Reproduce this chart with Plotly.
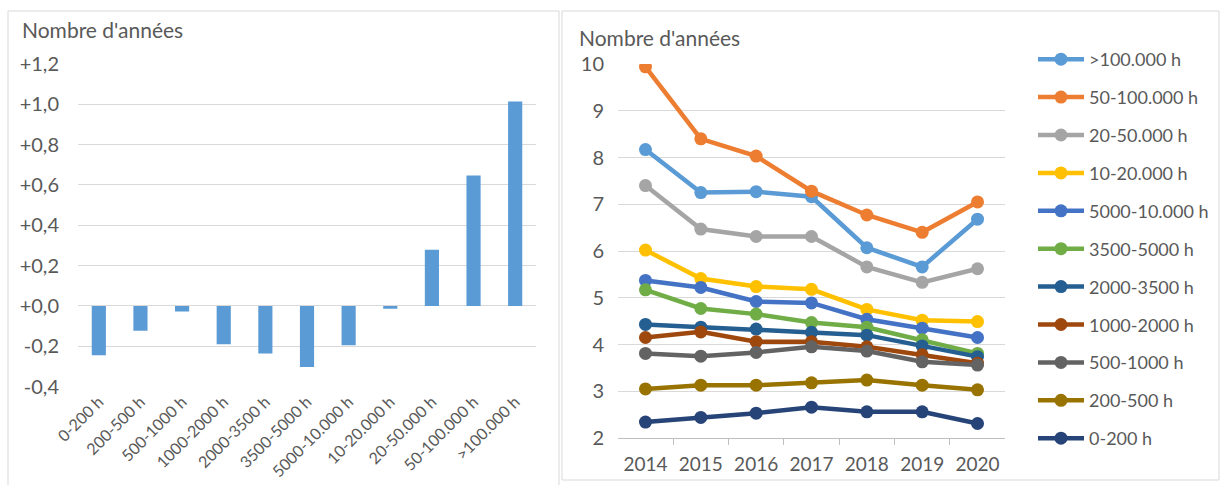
import plotly.graph_objects as go

W, H = 1225, 485

# ---- left panel: change in number of years by class ----
classes = ["0-200 h", "200-500 h", "500-1000 h", "1000-2000 h", "2000-3500 h",
           "3500-5000 h", "5000-10.000 h", "10-20.000 h", "20-50.000 h",
           "50-100.000 h", ">100.000 h"]
delta = [-0.245, -0.124, -0.028, -0.19, -0.236, -0.303, -0.195, -0.014, 0.278, 0.647, 1.014]
left_ticks = [-0.4, -0.2, 0.0, 0.2, 0.4, 0.6, 0.8, 1.0, 1.2]
left_ticktext = ["-0,4", "-0,2", "+0,0", "+0,2", "+0,4", "+0,6", "+0,8", "+1,0", "+1,2"]

# ---- right panel: yearly series per class ----
years = ["2014", "2015", "2016", "2017", "2018", "2019", "2020"]
s_100k_plus = [8.17, 7.25, 7.27, 7.16, 6.07, 5.66, 6.68]
s_50_100k = [9.94, 8.40, 8.03, 7.28, 6.77, 6.40, 7.05]
s_20_50k = [7.40, 6.47, 6.31, 6.31, 5.66, 5.33, 5.62]
s_10_20k = [6.02, 5.41, 5.24, 5.18, 4.75, 4.52, 4.49]
s_5000_10k = [5.37, 5.22, 4.92, 4.89, 4.54, 4.35, 4.15]
s_3500_5000 = [5.17, 4.77, 4.65, 4.47, 4.37, 4.10, 3.81]
s_2000_3500 = [4.43, 4.37, 4.33, 4.26, 4.20, 3.97, 3.74]
s_1000_2000 = [4.15, 4.27, 4.06, 4.06, 3.95, 3.78, 3.60]
s_500_1000 = [3.81, 3.75, 3.83, 3.95, 3.86, 3.63, 3.56]
s_200_500 = [3.05, 3.13, 3.13, 3.18, 3.24, 3.13, 3.03]
s_0_200 = [2.34, 2.44, 2.53, 2.66, 2.56, 2.56, 2.31]

series = [
    (">100.000 h", s_100k_plus, "#5B9BD5"),
    ("50-100.000 h", s_50_100k, "#ED7D31"),
    ("20-50.000 h", s_20_50k, "#A5A5A5"),
    ("10-20.000 h", s_10_20k, "#FFC000"),
    ("5000-10.000 h", s_5000_10k, "#4472C4"),
    ("3500-5000 h", s_3500_5000, "#70AD47"),
    ("2000-3500 h", s_2000_3500, "#255E91"),
    ("1000-2000 h", s_1000_2000, "#9E480E"),
    ("500-1000 h", s_500_1000, "#636363"),
    ("200-500 h", s_200_500, "#997300"),
    ("0-200 h", s_0_200, "#264478"),
]

FONT = "Lato"
TXT = "#595959"
GRID = "#D9D9D9"


def px_x(x):
    return x / W


def px_y(y):
    return 1 - y / H


fig = go.Figure()

fig.add_trace(go.Bar(
    x=classes, y=delta, marker=dict(color="#5B9BD5", line=dict(width=0)),
    xaxis="x", yaxis="y", showlegend=False,
))

for i, (name, vals, col) in enumerate(series):
    fig.add_trace(go.Scatter(
        x=years, y=vals, name=name, mode="lines+markers",
        line=dict(color=col, width=4.5),
        marker=dict(color=col, size=13),
        xaxis="x2", yaxis="y2", legendgroup=f"g{i}",
    ))

fig.update_layout(
    width=W, height=H,
    margin=dict(l=0, r=0, t=0, b=0, autoexpand=False),
    paper_bgcolor="white", plot_bgcolor="white",
    font=dict(family=FONT, size=18, color=TXT),
    bargap=0.66,
    xaxis=dict(
        domain=[px_x(78), px_x(536)], anchor="y", automargin=False,
        tickangle=-45, showgrid=False, showline=False, ticks="",
        tickfont=dict(size=16, color=TXT), ticklabelstandoff=2,
    ),
    yaxis=dict(
        domain=[px_y(386.5), px_y(64)], anchor="x", automargin=False,
        range=[-0.4, 1.2], tickvals=left_ticks, ticktext=left_ticktext,
        showgrid=True, gridcolor=GRID, gridwidth=1, zeroline=False,
        showline=False, ticks="", tickfont=dict(size=20, color=TXT),
        ticklabelstandoff=18,
    ),
    xaxis2=dict(
        domain=[px_x(618), px_x(1005)], anchor="y2", type="category",
        automargin=False,
        showgrid=False, showline=True, linecolor="#BFBFBF", linewidth=1,
        ticks="outside", tickson="boundaries", ticklen=6, tickcolor="#BFBFBF",
        tickfont=dict(size=19, color=TXT), ticklabelstandoff=9,
    ),
    yaxis2=dict(
        domain=[px_y(438), px_y(64)], anchor="x2", automargin=False,
        range=[2, 10], dtick=1, showgrid=True, gridcolor=GRID, gridwidth=1,
        zeroline=False, showline=False, ticks="",
        tickfont=dict(size=20, color=TXT), ticklabelstandoff=13,
    ),
    legend=dict(
        x=px_x(1033), y=px_y(41), xanchor="left", yanchor="top",
        font=dict(size=18, color=TXT), tracegroupgap=11.5,
        itemwidth=46, bgcolor="rgba(0,0,0,0)",
    ),
    shapes=[
        dict(type="rect", xref="paper", yref="paper",
             x0=px_x(8), x1=px_x(559), y0=px_y(492), y1=px_y(11),
             line=dict(color=GRID, width=1)),
        dict(type="rect", xref="paper", yref="paper",
             x0=px_x(562), x1=px_x(1219), y0=px_y(480), y1=px_y(11),
             line=dict(color=GRID, width=1)),
    ],
    annotations=[
        dict(text="Nombre d'années", xref="paper", yref="paper",
             x=px_x(20), y=px_y(29), xanchor="left", yanchor="middle",
             showarrow=False, font=dict(size=21, color=TXT)),
        dict(text="Nombre d'années", xref="paper", yref="paper",
             x=px_x(577), y=px_y(38), xanchor="left", yanchor="middle",
             showarrow=False, font=dict(size=21, color=TXT)),
    ],
)

fig.write_html("out.html")
